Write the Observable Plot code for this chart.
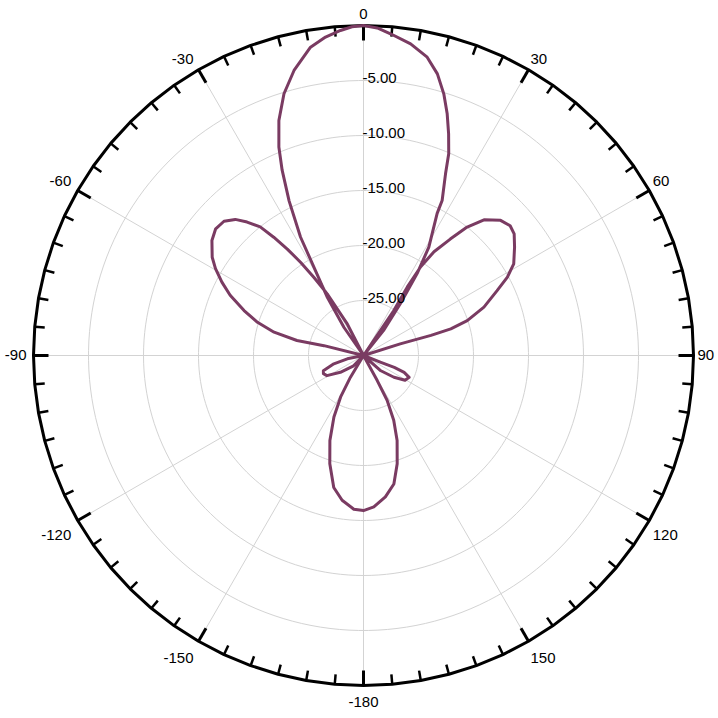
<!DOCTYPE html>
<html>
<head>
<meta charset="utf-8">
<script src="https://cdn.jsdelivr.net/npm/d3@7"></script>
<script src="https://cdn.jsdelivr.net/npm/@observablehq/plot@0.6"></script>
<style>
  body { margin: 0; background: #fff; }
  #chart svg { display: block; }
</style>
</head>
<body>
<div id="chart"></div>
<script>
// Pattern trace, in drawing order: angle (deg, clockwise from top) and gain (dB)
const angleDeg = [
  -180, -176.4, -171.6, -167.3, -162.7, -158.4, -154.3, -151.1, -149, -145,
  -136, -126, -118.8, -114.4, -110.7, -105.6, -101.6, -97,
  -79, -76, -77.3, -75.4, -72.6, -69.4, -65.7, -62.6, -59.6, -57, -52.8, -49.4, -46.1, -43.3, -41.1, -38.75, -37.2, -35.6, -34, -32.4, -30.5, -29.4, -27.2, -25,
  -34.8, -31.9, -28.0, -25.7, -23.7, -22.1, -19.8, -16.9, -13.7, -9.75, -6.8, -4.05, -2, 0, 2.4, 4.8, 8.6, 12.05, 14.7, 17.06, 19.1, 21.0, 22.9, 24.3, 26.9, 27.4, 31.1, 33.2, 35.4, 38.7, 40,
  34.2, 34, 32.6, 32.8, 34.2, 36.7, 38.9, 41.6, 45.4, 48.5, 51.1, 54.35, 58.6, 61.4, 64.1, 68.1, 71.4, 73, 73.4, 72.5, 76,
  103, 111.5, 111.1, 112.5, 115.6, 120.8, 125.6, 131.4, 138,
  148, 151.3, 152.2, 155, 158.4, 162.7, 166.7, 171.2, 176.1, 180
];
const gainDb = [
  -15.9, -16.0, -16.7, -17.7, -19.7, -21.7, -23.8, -25.7, -27.7, -30,
  -28.7, -27.4, -26.2, -26.0, -26.1, -27.2, -28.5, -30,
  -30, -26.3, -23.8, -21.6, -19.9, -18.4, -16.7, -15.5, -14.4, -13.6, -12.7, -12.3, -12.4, -13.0, -13.9, -15.0, -16.5, -18.1, -19.8, -21.6, -23.5, -25.1, -26.8, -30,
  -26.9, -23.8, -17.8, -14.4, -11.6, -9.55, -7.29, -5.13, -3.33, -1.56, -0.85, -0.38, -0.1, 0, -0.2, -0.65, -1.35, -2.27, -3.53, -5.12, -6.75, -8.41, -10.09, -11.88, -14.2, -15.45, -18.5, -21.1, -24.2, -27.1, -30,
  -27.3, -25.1, -22.6, -20.4, -18.6, -16.8, -15.0, -13.5, -12.5, -12.2, -12.4, -13.1, -14.0, -15.1, -16.5, -18.2, -20.05, -21.7, -23.6, -26.5, -30,
  -30, -28.3, -27.0, -26.0, -25.4, -25.6, -26.6, -27.9, -30,
  -30, -27.4, -25.4, -23.5, -21.7, -19.7, -18.0, -17.0, -16.2, -15.9
];

// Radial axis
const rMin = -30;
const rMax = 0;
const radialTicks = [-25, -20, -15, -10, -5];
const radialTickLabels = ["-25.00", "-20.00", "-15.00", "-10.00", "-5.00"];

// Angular axis
const angleTicks = [0, 30, 60, 90, 120, 150, 180, -150, -120, -90, -60, -30];
const angleTickLabels = ["0", "30", "60", "90", "120", "150", "-180", "-150", "-120", "-90", "-60", "-30"];
const minorAngleTicks = d3.range(-180, 180, 5).filter(a => a % 30 !== 0);

// Polar mapping onto an azimuthal-equidistant projection centred on the pole
const R = rMax - rMin;                       // angular radius of the plot disc (= 330 px)
const ringPx = 330;
const halfFramePx = 355;
const pxPerUnit = ringPx / R;
const lon = a => 180 - a;                    // clockwise from top
const lat = db => 90 - (Math.max(db, rMin) - rMin);

const pattern = angleDeg.map((a, i) => ({angle: a, db: gainDb[i]}));
const circle = (r, p = 2) => d3.geoCircle().center([0, 90]).radius(r).precision(p)();

// angle-label placement: anchor just outside the ring, pushed up/down a little
const labelR = 334, upOff = 7.5, downOff = 13;
const angleLabels = angleTicks.map((a, i) => {
  const t = a * Math.PI / 180;
  const s = Math.sin(t), c = Math.cos(t);
  const px = labelR * s;
  const py = labelR * c + (c > 0.01 ? upOff : c < -0.01 ? -downOff : 0);
  return {
    text: angleTickLabels[i],
    side: s > 0.01 ? "right" : s < -0.01 ? "left" : "mid",
    lon: lon(Math.atan2(px, py) * 180 / Math.PI),
    lat: 90 - Math.hypot(px, py) / pxPerUnit
  };
});
const labelOpts = side => ({
  filter: d => d.side === side,
  x: "lon", y: "lat", text: "text",
  fontSize: 15, fill: "black", lineAnchor: "middle"
});

const chart = Plot.plot({
  width: 718,
  height: 718,
  marginLeft: 8,
  marginRight: 0,
  marginTop: 0,
  marginBottom: 8,
  style: {fontFamily: "'Liberation Sans', Arial, sans-serif", background: "#fff"},
  projection: {
    type: "azimuthal-equidistant",
    rotate: [0, -90],
    domain: circle(R * halfFramePx / ringPx)
  },
  marks: [
    // grid circles
    Plot.geo(radialTicks, {geometry: t => circle(t - rMin), fill: "none", stroke: "#d3d3d3", strokeWidth: 1}),
    // spokes
    Plot.link(angleTicks, {x1: lon, y1: 90, x2: lon, y2: 90 - R, stroke: "#d3d3d3", strokeWidth: 1}),
    // outer ring
    Plot.geo([R], {geometry: r => circle(r, 5), fill: "none", stroke: "black", strokeWidth: 3}),
    // minor ticks
    Plot.link(minorAngleTicks, {x1: lon, y1: 90 - R, x2: lon, y2: 90 - R + 10 / pxPerUnit, stroke: "black", strokeWidth: 2.5}),
    // major ticks
    Plot.link(angleTicks, {x1: lon, y1: 90 - R, x2: lon, y2: 90 - R + 15 / pxPerUnit, stroke: "black", strokeWidth: 3}),
    // pattern
    Plot.line(pattern, {x: d => lon(d.angle), y: d => lat(d.db), stroke: "#7a3b62", strokeWidth: 3, strokeLinejoin: "round"}),
    // radial labels
    Plot.text(radialTicks, {x: 180, y: t => lat(t), text: (t, i) => radialTickLabels[i], textAnchor: "start", dx: -1, dy: -2.5, fontSize: 15, fill: "black"}),
    // angle labels
    Plot.text(angleLabels, {...labelOpts("right"), textAnchor: "start"}),
    Plot.text(angleLabels, {...labelOpts("left"), textAnchor: "end", dx: -3}),
    Plot.text(angleLabels, {...labelOpts("mid"), textAnchor: "middle"})
  ]
});
document.getElementById("chart").appendChild(chart);
</script>
</body>
</html>
